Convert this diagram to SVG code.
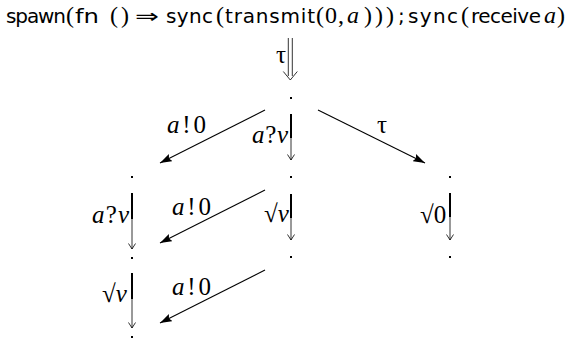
<svg xmlns="http://www.w3.org/2000/svg" width="569" height="339" viewBox="0 0 569 339">
<style>
.sans{font-family:"DejaVu Sans","Liberation Sans",sans-serif;font-size:20px;fill:#000}
.rm{font-family:"Liberation Serif","DejaVu Serif",serif;font-size:24px;fill:#000}
.it{font-family:"Liberation Serif","DejaVu Serif",serif;font-style:italic}
.lbl{font-family:"Liberation Serif","DejaVu Serif",serif;font-size:25px;fill:#000}
.dot{fill:#000}
.diag{stroke:#000;stroke-width:1.1;fill:none}
.bar{stroke:#000;stroke-width:2;fill:none}
.thin{stroke:#000;stroke-width:0.8;fill:none}
</style>
<defs>
<marker id="fh" viewBox="0 0 12 8" refX="12" refY="4" markerWidth="12" markerHeight="8" markerUnits="userSpaceOnUse" orient="auto">
<path d="M0,0 L12,4 L0,8 L2,4 Z" fill="#000"/>
</marker>
</defs>
<g id="n0">
<text class="sans" x="6" y="23" textLength="60" lengthAdjust="spacing">spawn</text>
<text class="rm" x="66" y="23">(</text>
<text class="sans" x="75" y="23" textLength="24" lengthAdjust="spacingAndGlyphs">fn</text>
<text class="rm" x="110" y="23" textLength="19" lengthAdjust="spacing">()</text>
<text class="sans" x="135" y="23" textLength="24" lengthAdjust="spacingAndGlyphs">⇒</text>
<text class="sans" x="166" y="23" textLength="47" lengthAdjust="spacing">sync</text>
<text class="rm" x="216" y="23">(</text>
<text class="sans" x="225" y="23" textLength="90" lengthAdjust="spacing">transmit</text>
<text class="rm" x="316" y="23">(</text>
<text class="rm" x="325" y="23">0</text>
<text class="rm" x="338" y="23">,</text>
<text class="rm it" x="347" y="23">a</text>
<text class="rm" x="364" y="23" textLength="30" lengthAdjust="spacing">)))</text>
<text class="sans" x="398" y="23">;</text>
<text class="sans" x="408" y="23" textLength="50" lengthAdjust="spacing">sync</text>
<text class="rm" x="461" y="23">(</text>
<text class="sans" x="471" y="23" textLength="70" lengthAdjust="spacing">receive</text>
<text class="rm it" x="544" y="23">a</text>
<text class="rm" x="557" y="23">)</text>
</g>
<g id="n1"><rect class="dot" x="290" y="97" width="2" height="2"/></g>
<g id="n2"><rect class="dot" x="131" y="176" width="2" height="2"/></g>
<g id="n3"><rect class="dot" x="290" y="176" width="2" height="2"/></g>
<g id="n4"><rect class="dot" x="449" y="176" width="2" height="2"/></g>
<g id="n5"><rect class="dot" x="131" y="257" width="2" height="2"/></g>
<g id="n6"><rect class="dot" x="290" y="256" width="2" height="2"/></g>
<g id="n7"><rect class="dot" x="449" y="256" width="2" height="2"/></g>
<g id="n8"><rect class="dot" x="131" y="336" width="2" height="2"/></g>
<g id="connectors">
<line class="thin" x1="288.3" y1="38" x2="288.3" y2="76"/>
<line class="thin" x1="292.3" y1="38" x2="292.3" y2="76"/>
<polyline class="thin" points="283.3,71.5 290.3,80 297.3,71.5"/>
<text class="lbl" x="276" y="63">τ</text>
<line class="diag" x1="265" y1="110" x2="160" y2="163" marker-end="url(#fh)"/>
<text class="lbl" x="167" y="133" textLength="39" lengthAdjust="spacing"><tspan class="it">a</tspan>!0</text>
<line class="diag" x1="265" y1="190" x2="160" y2="243" marker-end="url(#fh)"/>
<text class="lbl" x="172" y="215" textLength="39" lengthAdjust="spacing"><tspan class="it">a</tspan>!0</text>
<line class="diag" x1="265" y1="270" x2="160" y2="323" marker-end="url(#fh)"/>
<text class="lbl" x="172" y="295" textLength="39" lengthAdjust="spacing"><tspan class="it">a</tspan>!0</text>
<line class="diag" x1="318" y1="110" x2="425" y2="163" marker-end="url(#fh)"/>
<text class="lbl" x="377" y="133">τ</text>
<line class="bar" x1="291" y1="114" x2="291" y2="138"/>
<line class="thin" x1="291" y1="114" x2="291" y2="160"/>
<polyline class="thin" points="287.5,154.5 291,160 294.5,154.5"/>
<text class="lbl" x="252" y="143" textLength="36" lengthAdjust="spacing"><tspan class="it">a</tspan>?<tspan class="it">v</tspan></text>
<line class="bar" x1="291" y1="194" x2="291" y2="218"/>
<line class="thin" x1="291" y1="194" x2="291" y2="240"/>
<polyline class="thin" points="287.5,234.5 291,240 294.5,234.5"/>
<text class="lbl" x="264" y="222">√<tspan class="it">v</tspan></text>
<line class="bar" x1="450" y1="193" x2="450" y2="217"/>
<line class="thin" x1="450" y1="193" x2="450" y2="240"/>
<polyline class="thin" points="446.5,234.5 450,240 453.5,234.5"/>
<text class="lbl" x="420" y="223">√0</text>
<line class="bar" x1="132" y1="193" x2="132" y2="219"/>
<line class="thin" x1="132" y1="193" x2="132" y2="249"/>
<polyline class="thin" points="128.5,243.5 132,249 135.5,243.5"/>
<text class="lbl" x="92" y="223" textLength="37" lengthAdjust="spacing"><tspan class="it">a</tspan>?<tspan class="it">v</tspan></text>
<line class="bar" x1="132" y1="273" x2="132" y2="299"/>
<line class="thin" x1="132" y1="273" x2="132" y2="328"/>
<polyline class="thin" points="128.5,322.5 132,328 135.5,322.5"/>
<text class="lbl" x="102" y="302">√<tspan class="it">v</tspan></text>
</g>
</svg>
